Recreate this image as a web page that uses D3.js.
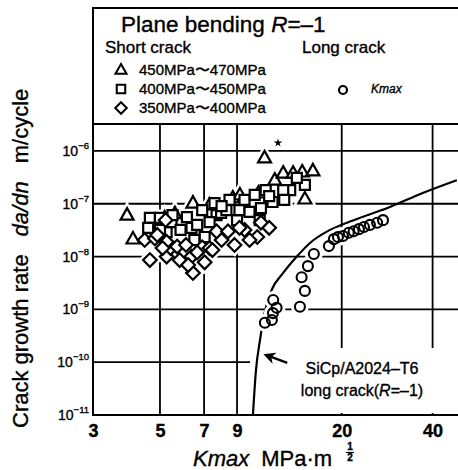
<!DOCTYPE html>
<html><head><meta charset="utf-8">
<script src="https://cdn.jsdelivr.net/npm/d3@7"></script>
<style>
body{margin:0;background:#fff}
svg{display:block}
text{font-family:"Liberation Sans",Arial,Helvetica,sans-serif;fill:#000;stroke:#000;stroke-width:0.35px}
</style>
</head><body>
<svg id="c" width="458" height="470"></svg>
<script>
// ---------- data ----------
const xTickValues = [3, 5, 7, 9, 20, 40];
const xGridValues = [5, 7, 9, 20, 40];
const yTickExponents = [-6, -7, -8, -9, -10, -11];

// Short crack, 450MPa~470MPa  [Kmax, da/dn]
const shortTri = [
  [3.89,6.1e-8],[4.07,2.15e-8],[5.18,5.4e-8],[6.43,1.03e-7],[8.72,1.29e-7],[9.2,1.47e-7],
  [11.1,7.4e-7],[12.0,2.8e-7],[12.8,3.8e-7],[13.8,3.8e-7],[14.8,4.0e-7],[16.05,4.2e-7],
  [15.1,1.23e-7],[5.6,6.5e-8],[7.3,9.5e-8],[10.6,1.6e-7]
];
// Short crack, 400MPa~450MPa
const shortSq = [
  [4.63,5.4e-8],[4.57,3.5e-8],[5.0,5.4e-8],[5.26,2.9e-8],[5.46,4.5e-8],[5.85,3.2e-8],
  [6.14,5.6e-8],[6.36,3.5e-8],[6.64,4.0e-8],[6.9,7.6e-8],[7.03,2.35e-8],[7.58,1.03e-7],
  [7.7,6.1e-8],[7.97,6.7e-8],[8.3,7.6e-8],[8.5,1.18e-7],[9.0,4.9e-8],[9.17,7.6e-8],
  [9.9,7.0e-8],[10.8,8.3e-8],[11.2,1.82e-7],[11.8,1.08e-7],[13.5,1.82e-7],[15.1,2.27e-7],
  [5.0,3.2e-8],[5.5,6.1e-8],[9.53,1.18e-7],[10.3,1.47e-7],[12.8,1.82e-7],[10.7,4.9e-8],
  [12.9,1.18e-7],[14.2,3.1e-7],[7.3,4.5e-8],[6.5,2.06e-8],[11.5,1.4e-7],[8.0,9.0e-8]
];
// Short crack, 350MPa~400MPa
const shortDia = [
  [4.45,2.06e-8],[4.81,2.2e-8],[4.63,8.6e-9],[5.26,1.0e-8],[5.42,1.45e-8],[5.26,1.9e-8],
  [5.81,8.6e-9],[5.7,1.55e-8],[6.43,4.9e-9],[6.36,1.0e-8],[6.9,1.5e-8],[7.3,1.45e-8],
  [7.46,1.33e-8],[8.0,2.06e-8],[8.83,1.66e-8],[10.5,2.35e-8],[11.5,3.5e-8],[5.22,4.9e-8],
  [6.1,1.66e-8],[6.64,1.2e-8],[7.7,3.0e-8],[8.4,3.0e-8],[9.53,3.2e-8],[9.9,2.06e-8],
  [5.1,1.45e-8],[7.03,7.8e-9],[6.2,6.9e-9],[9.17,3.5e-8],[10.8,4.4e-8],[4.9,2.57e-8]
];
// Long crack, Kmax
const longCircle = [
  [11.13,5.6e-10],[11.74,6.3e-10],[11.84,8.5e-10],[12.17,1.07e-9],[11.86,1.51e-9],
  [14.54,1.12e-9],[15.1,2.24e-9],[14.73,4.07e-9],[15.45,6.6e-9],[16.17,1.12e-8],
  [18.14,1.58e-8],[18.84,2.14e-8],[19.43,2.34e-8],[20.19,2.45e-8],[21.1,2.82e-8],
  [21.9,3.02e-8],[22.8,3.31e-8],[23.7,3.63e-8],[24.8,3.98e-8],[26.2,4.37e-8],[27.4,4.9e-8]
];
// SiCp/A2024-T6 long crack (R=-1) curve
const longCurve = [
  [10.16,1e-11],[10.4,7.1e-11],[10.72,2.6e-10],[11.1,8.5e-10],[11.72,2.33e-9],[12.8,4.9e-9],
  [14.2,1.0e-8],[15.7,1.81e-8],[18.3,3.2e-8],[21.3,4.6e-8],[28.9,8.7e-8],[37.1,1.6e-7],[48.1,2.8e-7]
];
const starMark = [[12.3,1.42e-6]];
const arrowFrom = [13.2, 9.7e-11];
const arrowTo = [11.2, 1.37e-10];

// ---------- layout ----------
const svg = d3.select("#c");
const L = 93, R = 460, T = 124, B = 415, boxTop = 8;
const x = d3.scaleLog().domain([3, 49.3]).range([L, R]);
const y = d3.scaleLog().domain([1e-11, 3.24e-6]).range([B, T]);
const SW = 2;

// grid
const g = svg.append("g");
g.selectAll("line.v").data(xGridValues).join("line")
  .attr("x1", d => x(d)).attr("x2", d => x(d)).attr("y1", T).attr("y2", B)
  .attr("stroke", "#000").attr("stroke-width", 1.8);
g.selectAll("line.h").data(yTickExponents.filter(e => e > -11)).join("line")
  .attr("x1", L).attr("x2", 470).attr("y1", e => y(Math.pow(10, e))).attr("y2", e => y(Math.pow(10, e)))
  .attr("stroke", "#000").attr("stroke-width", 1.8);

// white area behind annotation
svg.append("rect").attr("x", 250).attr("y", 348).attr("width", 220).attr("height", 65).attr("fill", "#fff");

// frame
svg.append("rect").attr("x", L).attr("y", boxTop).attr("width", 480 - L).attr("height", B - boxTop)
  .attr("fill", "none").attr("stroke", "#000").attr("stroke-width", SW);
svg.append("line").attr("x1", L).attr("x2", 470).attr("y1", T).attr("y2", T)
  .attr("stroke", "#000").attr("stroke-width", SW);

// axes labels (ticks)
const xAxis = d3.axisBottom(x).tickValues(xTickValues).tickSize(0).tickFormat(d3.format("d"));
const xa = svg.append("g").attr("transform", `translate(0,${B})`).call(xAxis);
xa.select(".domain").remove();
xa.selectAll("text").attr("dy", 0).attr("y", 22).attr("font-size", 18).attr("font-weight", "bold")
  .attr("font-family", "Liberation Sans, Arial, sans-serif").attr("fill", "#000");

const yl = svg.append("g");
yTickExponents.forEach(e => {
  const t = yl.append("text").attr("x", 89).attr("y", y(Math.pow(10, e)) + 5)
    .attr("text-anchor", "end").attr("font-size", 14);
  t.append("tspan").text("10");
  t.append("tspan").attr("dy", -7).attr("font-size", 9.5).text("\u2212" + Math.abs(e));
});

// curve
const line = d3.line().x(d => x(d[0])).y(d => y(d[1])).curve(d3.curveMonotoneX);
svg.append("path").datum(longCurve).attr("d", line).attr("fill", "none")
  .attr("stroke", "#000").attr("stroke-width", 2.2);

// marker shapes
const triPath = "M0,-7L6.5,4.5L-6.5,4.5Z";
const sqPath = "M-5,-5H5V5H-5Z";
const diaPath = "M0,-6.8L6.8,0L0,6.8L-6.8,0Z";
const all = [
  ...shortTri.map(d => ({d, p: triPath})),
  ...shortSq.map(d => ({d, p: sqPath})),
  ...shortDia.map(d => ({d, p: diaPath}))
];
// halos
const halo = svg.append("g");
halo.selectAll("path").data(all).join("path").attr("d", o => o.p)
  .attr("transform", o => `translate(${x(o.d[0])},${y(o.d[1])})`)
  .attr("fill", "#fff").attr("stroke", "#fff").attr("stroke-width", 7);
halo.selectAll("circle").data(longCircle).join("circle")
  .attr("cx", d => x(d[0])).attr("cy", d => y(d[1])).attr("r", 5)
  .attr("fill", "#fff").attr("stroke", "#fff").attr("stroke-width", 8);

const mk = svg.append("g");
mk.selectAll("path").data(all).join("path").attr("d", o => o.p)
  .attr("transform", o => `translate(${x(o.d[0])},${y(o.d[1])})`)
  .attr("fill", "#fff").attr("stroke", "#000").attr("stroke-width", 2.2).attr("stroke-linejoin", "miter");
mk.selectAll("circle").data(longCircle).join("circle")
  .attr("cx", d => x(d[0])).attr("cy", d => y(d[1])).attr("r", 5)
  .attr("fill", "none").attr("stroke", "#000").attr("stroke-width", 2.1);
svg.selectAll("path.star").data(starMark).join("path").attr("class", "star")
  .attr("d", d3.symbol(d3.symbolStar, 22)())
  .attr("transform", d => `translate(${x(d[0])},${y(d[1])})`).attr("fill", "#000");

// annotation
svg.append("defs").append("marker").attr("id", "ah").attr("viewBox", "0 0 10 10")
  .attr("refX", 8).attr("refY", 5).attr("markerWidth", 5).attr("markerHeight", 5).attr("orient", "auto")
  .append("path").attr("d", "M0,0L10,5L0,10L3,5Z").attr("fill", "#000");
svg.append("line").attr("x1", x(arrowFrom[0])).attr("y1", y(arrowFrom[1]))
  .attr("x2", x(arrowTo[0])).attr("y2", y(arrowTo[1]))
  .attr("stroke", "#000").attr("stroke-width", 2.4).attr("marker-end", "url(#ah)");
svg.append("text").attr("x", 362).attr("y", 374).attr("text-anchor", "middle").attr("font-size", 16)
  .text("SiCp/A2024\u2013T6");
const t2 = svg.append("text").attr("x", 362).attr("y", 396).attr("text-anchor", "middle").attr("font-size", 16);
t2.append("tspan").text("long crack(");
t2.append("tspan").attr("font-style", "italic").text("R");
t2.append("tspan").text("=\u20131)");

// legend
const tt = svg.append("text").attr("x", 121).attr("y", 32).attr("font-size", 22.5);
tt.append("tspan").text("Plane bending ");
tt.append("tspan").attr("font-style", "italic").text("R");
tt.append("tspan").text("=\u20131");
svg.append("text").attr("x", 105).attr("y", 53).attr("font-size", 17).text("Short crack");
svg.append("text").attr("x", 302).attr("y", 53).attr("font-size", 17).text("Long crack");
const legItems = [
  {p: triPath, label: "450MPa\u301C470MPa", yy: 70},
  {p: sqPath, label: "400MPa\u301C450MPa", yy: 89},
  {p: diaPath, label: "350MPa\u301C400MPa", yy: 108}
];
legItems.forEach(it => {
  svg.append("path").attr("d", it.p).attr("transform", `translate(121,${it.yy}) scale(0.85)`)
    .attr("fill", "#fff").attr("stroke", "#000").attr("stroke-width", 2.4);
  svg.append("text").attr("x", 139).attr("y", it.yy + 5).attr("font-size", 15).text(it.label);
});
svg.append("circle").attr("cx", 343).attr("cy", 90).attr("r", 4).attr("fill", "none")
  .attr("stroke", "#000").attr("stroke-width", 2.2);
svg.append("text").attr("x", 371).attr("y", 93).attr("font-size", 12).attr("font-style", "italic").text("Kmax");

// axis titles
const xt = svg.append("text").attr("x", 193).attr("y", 466).attr("font-size", 22);
xt.append("tspan").attr("font-style", "italic").text("Kmax");
xt.append("tspan").attr("dx", 12).text("MPa\u00B7m");
svg.append("text").attr("x", 350).attr("y", 450).attr("font-size", 10).attr("font-weight", "bold").attr("text-anchor", "middle").text("1");
svg.append("line").attr("x1", 346).attr("x2", 354).attr("y1", 452.5).attr("y2", 452.5).attr("stroke", "#000").attr("stroke-width", 1.2);
svg.append("text").attr("x", 350).attr("y", 461).attr("font-size", 10).attr("font-weight", "bold").attr("text-anchor", "middle").text("2");

const yt = svg.append("text").attr("transform", "translate(28,428) rotate(-90)").attr("font-size", 22);
yt.append("tspan").text("Crack growth rate");
yt.append("tspan").attr("dx", 18).attr("font-style", "italic").text("da/dn");
yt.append("tspan").attr("dx", 18).text("m/cycle");
</script>
</body></html>
